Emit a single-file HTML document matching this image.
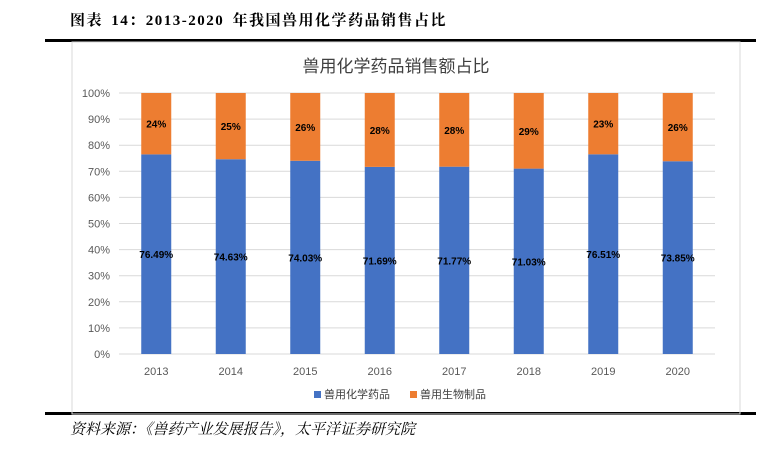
<!DOCTYPE html>
<html><head><meta charset="utf-8"><style>
body{margin:0;width:771px;height:449px;background:#fff;overflow:hidden;position:relative;font-family:"Liberation Sans","Noto Sans CJK SC",sans-serif}
.abs{position:absolute}
</style></head><body>
<div class="abs" style="left:70px;top:9px;font:bold 15px 'Liberation Serif','Noto Serif CJK SC',serif;color:#000;letter-spacing:1.5px;word-spacing:3px">图表 14：2013-2020 年我国兽用化学药品销售占比</div>
<div class="abs" style="left:45px;top:39px;width:711px;height:3px;background:#000"></div>
<div class="abs" style="left:45px;top:412px;width:711px;height:3px;background:#000"></div>
<div class="abs" style="left:70px;top:418px;font:italic 15px 'Liberation Serif','Noto Serif CJK SC',serif;color:#000">资料来源：《兽药产业发展报告》，太平洋证券研究院</div>
<svg class="abs" style="left:0;top:0" width="771" height="449" id="chart"></svg>
<script>
const years=["2013","2014","2015","2016","2017","2018","2019","2020"];
const chemVals=[76.49,74.63,74.03,71.69,71.77,71.03,76.51,73.85];
const bioLabels=["24%","25%","26%","28%","28%","29%","23%","26%"];
const yTicks=[0,10,20,30,40,50,60,70,80,90,100];
const svg=document.getElementById('chart');const NS='http://www.w3.org/2000/svg';
function mk(t,a,txt){const e=document.createElementNS(NS,t);for(const k in a)e.setAttribute(k,a[k]);if(txt!==undefined)e.textContent=txt;svg.appendChild(e);return e;}
const x0=119,x1=715,yTop=93,yBot=354;const bw=(x1-x0)/years.length;
const y=v=>yBot-(yBot-yTop)*v/100;const xc=i=>x0+bw*(i+0.5);
let e=mk('rect',{x:72,y:42,width:668,height:372,fill:'none',stroke:'#d9d9d9'});

e=mk('text',{x:396,y:72,'text-anchor':'middle','font-size':17,fill:'#404040'},'兽用化学药品销售额占比');

yTicks.forEach(t=>{
 e=mk('line',{x1:x0,x2:x1,y1:y(t),y2:y(t),stroke:'#d9d9d9'});
 
 e=mk('text',{x:110,y:y(t)+4,'text-anchor':'end','font-size':11,fill:'#595959'},t+'%');
 
});
years.forEach((yr,i)=>{
 const c=xc(i),w=30,v=chemVals[i];
 e=mk('rect',{x:c-w/2,y:y(v),width:w,height:yBot-y(v),fill:'#4472c4'});
 
 e=mk('rect',{x:c-w/2,y:y(100),width:w,height:y(v)-y(100),fill:'#ed7d31'});
 
 e=mk('text',{x:c,y:y(v/2)+4,'text-anchor':'middle','font-size':10,'font-weight':'bold',fill:'#000'},v.toFixed(2)+'%');
 
 e=mk('text',{x:c,y:y((100+v)/2)+4,'text-anchor':'middle','font-size':10,'font-weight':'bold',fill:'#000'},bioLabels[i]);
 
 e=mk('text',{x:c,y:yBot+21,'text-anchor':'middle','font-size':11,fill:'#595959'},yr);
 
});
e=mk('rect',{x:314,y:391,width:7,height:7,fill:'#4472c4'});
e=mk('text',{x:324,y:398,'font-size':11,fill:'#404040'},'兽用化学药品');
e=mk('rect',{x:410,y:391,width:7,height:7,fill:'#ed7d31'});
e=mk('text',{x:420,y:398,'font-size':11,fill:'#404040'},'兽用生物制品');
</script>
</body></html>
